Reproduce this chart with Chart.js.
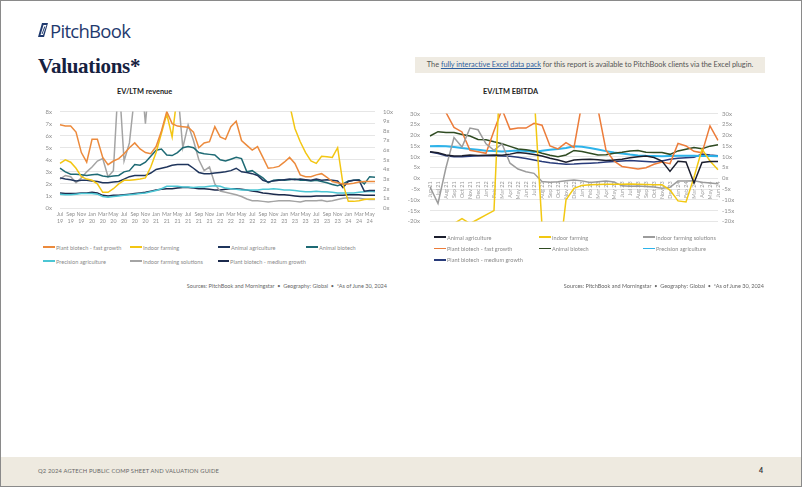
<!DOCTYPE html>
<html>
<head>
<meta charset="utf-8">
<script src="https://cdn.jsdelivr.net/npm/chart.js@4.4.1/dist/chart.umd.min.js"></script>
<style>
  html, body { margin: 0; padding: 0; background: #fff; }
  #page { position: relative; width: 802px; height: 487px; overflow: hidden; font-family: Lato, "Open Sans", sans-serif; }
  #frame { position: absolute; left: 0; top: 0; width: 802px; height: 487px; box-sizing: border-box; border: 1px solid #8a8a8a; pointer-events: none; z-index: 5; }
  #logo { position: absolute; left: 38px; top: 19px; height: 22px; display: flex; align-items: center; }
  #logo span { font-family: "Open Sans", sans-serif; font-size: 18.5px; color: #1f3a6e; letter-spacing: -0.7px; margin-left: 1px; }
  #title { position: absolute; left: 38px; top: 54px; font-family: "Liberation Serif", serif; font-weight: bold; font-size: 21px; color: #16213f; letter-spacing: -0.3px; }
  #info { position: absolute; left: 415px; top: 57px; width: 350px; height: 16px; background: #efebe2; font-size: 7.4px; color: #555; line-height: 16px; text-align: center; letter-spacing: -0.05px; }
  #info a { color: #2f5f9e; text-decoration: underline; }
  .ctitle { position: absolute; top: 87px; font-size: 7.4px; font-weight: bold; color: #222; }
  canvas { position: absolute; }
  .legend { position: absolute; display: grid; font-size: 5.6px; color: #8a8a8a; }
  .legend div { display: flex; align-items: center; white-space: nowrap; }
  .legend i { display: inline-block; width: 12px; height: 1.6px; margin-right: 1px; }
  .source { position: absolute; top: 283px; font-size: 5.5px; color: #666; text-align: right; white-space: nowrap; }
  #footer { position: absolute; left: 0; top: 457px; width: 802px; height: 30px; background: #eeeae0; }
  #footer .t { position: absolute; left: 38px; top: 10px; font-size: 5.8px; color: #666; letter-spacing: 0.15px; }
  #footer .n { position: absolute; left: 759px; top: 9px; font-size: 7px; color: #333; font-weight: bold; }
</style>
</head>
<body>
<div id="page">
  <div id="logo">
    <svg width="11" height="16" viewBox="0 0 11 16">
      <path d="M4 1 L10 1 L6 15 L0 15 Z" fill="#1f3a6e"/>
      <path d="M5.5 3 L8.5 3 L5 13 L2.5 13 Z" fill="#fff"/>
      <path d="M6.3 4.5 L7.4 4.5 L4.5 12 L3.6 12 Z" fill="#1f3a6e"/>
    </svg>
    <span>PitchBook</span>
  </div>
  <div id="title">Valuations*</div>
  <div id="info">The <a>fully interactive Excel data pack</a> for this report is available to PitchBook clients via the Excel plugin.</div>

  <div class="ctitle" style="left:117px">EV/LTM revenue</div>
  <canvas id="rev" width="360" height="130" style="left:36px; top:100px"></canvas>
  <div class="legend" id="revLegend" style="left:43px; top:240px; grid-template-columns:87px 88px 88px 80px; grid-auto-rows:14px"></div>
  <div class="source" style="right:415px">Sources: PitchBook and Morningstar &nbsp;•&nbsp; Geography: Global &nbsp;•&nbsp; *As of June 30, 2024</div>

  <div class="ctitle" style="left:483px">EV/LTM EBITDA</div>
  <canvas id="ebitda" width="345" height="135" style="left:398px; top:100px"></canvas>
  <div class="legend" id="ebLegend" style="left:434px; top:231.5px; grid-template-columns:105px 104px 110px; grid-auto-rows:11.4px"></div>
  <div class="source" style="right:38px">Sources: PitchBook and Morningstar &nbsp;•&nbsp; Geography: Global &nbsp;•&nbsp; *As of June 30, 2024</div>

  <div id="footer"><div class="t">Q2 2024 AGTECH PUBLIC COMP SHEET AND VALUATION GUIDE</div><div class="n">4</div></div>
  <div id="frame"></div>
</div>
<script>
// EV/LTM revenue, monthly Jul 2019 - Jun 2024
const revMonths = ['Jul 19','Aug 19','Sep 19','Oct 19','Nov 19','Dec 19',
  'Jan 20','Feb 20','Mar 20','Apr 20','May 20','Jun 20','Jul 20','Aug 20','Sep 20','Oct 20','Nov 20','Dec 20',
  'Jan 21','Feb 21','Mar 21','Apr 21','May 21','Jun 21','Jul 21','Aug 21','Sep 21','Oct 21','Nov 21','Dec 21',
  'Jan 22','Feb 22','Mar 22','Apr 22','May 22','Jun 22','Jul 22','Aug 22','Sep 22','Oct 22','Nov 22','Dec 22',
  'Jan 23','Feb 23','Mar 23','Apr 23','May 23','Jun 23','Jul 23','Aug 23','Sep 23','Oct 23','Nov 23','Dec 23',
  'Jan 24','Feb 24','Mar 24','Apr 24','May 24','Jun 24'];

const fastRev = [6.9,6.8,6.8,6.3,4.6,3.8,5.7,5.7,4.2,3.6,
  3.9,4.1,4.5,5.0,5.4,4.9,4.6,4.5,5.1,6.4,
  8.0,7.0,6.8,6.75,6.7,6.3,5.0,5.4,5.5,6.75,
  5.9,5.7,6.75,7.2,5.6,5.2,4.8,5.1,4.2,3.3,
  3.35,3.45,3.8,4.2,3.7,2.75,2.6,2.6,2.75,2.85,
  2.55,2.2,2.1,2.0,2.0,2.05,2.15,2.2,2.2,2.2];
const indoorRev = [3.7,4.0,3.8,3.3,2.6,2.4,2.3,2.0,1.3,1.3,
  1.6,2.0,2.3,2.3,2.35,2.4,2.5,3.4,4.6,6.2,
  7.8,5.9,9.5,11,12,13,14,15,15,14,
  13,12.5,12,11.5,11,10.5,10,10.5,11,11,
  10.5,10,9.5,8.6,6.6,5.5,4.6,3.9,3.7,4.3,
  4.25,4.2,5.0,2.0,0.55,0.55,0.6,0.7,0.75,0.75];
const animalAgRev = [2.5,2.4,2.35,2.25,2.3,2.3,2.25,2.2,2.1,2.1,
  2.15,2.2,2.4,2.6,2.7,2.7,2.7,2.9,3.2,3.3,
  3.4,3.55,3.6,3.6,3.6,3.3,2.95,2.85,2.85,2.9,
  2.95,3.0,3.1,3.3,3.0,2.95,2.85,2.7,2.3,2.15,
  2.25,2.3,2.35,2.4,2.35,2.4,2.35,2.3,2.4,2.3,
  2.35,2.3,2.25,1.7,2.2,2.3,2.3,1.4,1.45,1.45];
const animalBioRev = [3.3,3.0,2.8,2.8,2.75,2.7,2.75,2.8,2.65,2.6,
  2.65,2.7,3.0,3.1,3.6,3.55,3.8,4.3,4.8,4.9,
  4.4,4.35,4.6,5.0,5.1,5.0,4.6,4.5,4.45,4.4,
  4.0,3.9,4.05,4.2,4.1,3.0,3.1,2.8,2.5,2.1,
  2.3,2.35,2.3,2.35,2.4,2.3,2.3,2.25,2.3,2.2,
  2.1,1.95,1.85,2.0,2.25,2.3,2.35,2.0,2.6,2.55];
const precisionRev = [1.15,1.1,1.1,1.15,1.2,1.2,1.2,1.15,0.95,0.9,
  0.95,1.0,1.05,1.1,1.15,1.2,1.25,1.35,1.45,1.6,
  1.8,1.8,1.8,1.75,1.75,1.7,1.75,1.75,1.8,1.85,
  1.8,1.65,1.6,1.55,1.5,1.5,1.5,1.5,1.55,1.55,
  1.6,1.55,1.5,1.5,1.45,1.4,1.35,1.35,1.4,1.35,
  1.35,1.3,1.25,1.25,1.25,1.25,1.3,1.35,1.4,1.35];
const indoorSolRev = [2.4,2.7,2.6,2.1,2.5,3.0,3.4,3.9,4.1,2.6,
  3.1,11,3.9,5.4,9.5,12,7.0,12,14,13,
  11,10,10,5.0,6.9,5.6,4.0,3.1,3.4,2.0,
  1.4,1.3,1.2,1.1,0.95,0.75,0.6,0.6,0.55,0.5,
  0.55,0.6,0.6,0.6,0.55,0.5,0.6,0.6,0.6,0.65,
  0.55,0.6,0.7,0.8,0.85,0.8,0.8,0.75,0.7,0.7];
const plantMedRev = [1.25,1.2,1.2,1.2,1.25,1.25,1.3,1.25,1.05,1.0,
  1.05,1.05,1.1,1.15,1.2,1.25,1.3,1.4,1.5,1.55,
  1.6,1.6,1.65,1.7,1.7,1.65,1.6,1.6,1.55,1.5,
  1.5,1.55,1.6,1.6,1.55,1.5,1.4,1.35,1.25,1.2,
  1.15,1.1,1.1,1.05,1.0,0.95,0.95,0.95,1.0,1.0,
  1.0,1.0,1.05,1.05,1.1,1.1,1.1,1.05,1.05,1.05];

// EV/LTM EBITDA, monthly Jun 2021 - Jun 2024
const ebMonths = ['Jun 21','Jul 21','Aug 21','Sep 21','Oct 21','Nov 21','Dec 21',
  'Jan 22','Feb 22','Mar 22','Apr 22','May 22','Jun 22','Jul 22','Aug 22','Sep 22','Oct 22','Nov 22','Dec 22',
  'Jan 23','Feb 23','Mar 23','Apr 23','May 23','Jun 23','Jul 23','Aug 23','Sep 23','Oct 23','Nov 23','Dec 23',
  'Jan 24','Feb 24','Mar 24','Apr 24','May 24','Jun 24'];

const animalAgEb = [12.3,11.8,10.8,10.3,10.5,10.8,10.6,10.7,10.8,10.7,
  11.2,12.0,11.6,11.0,10.3,9.3,8.5,7.5,8.5,8.7,
  8.8,8.6,8.3,8.5,8.8,9.5,10.0,10.3,9.6,8.0,
  3.2,7.9,7.6,-2.2,7.3,7.8,7.8];
const indoorEb = [-26,-24,-22,-21,-18.7,-21,-19,-17,-15,70,
  60,55,50,40,-22,-40,-42,-10,-4.7,-3.3,
  -3.0,-2.9,-2.8,-2.8,-2.8,-2.7,-2.8,-2.9,-3.0,-3.0,
  -5.5,-10.5,-11,0.5,13.5,8,4];
const indoorSolEb = [-4.0,-11.7,5.0,18.9,14.5,23.3,22.5,16.0,13.0,16.0,
  7.0,4.3,3.0,2.3,-1.5,-1.8,-1.6,-1.2,-0.8,-1.2,
  -2.0,-1.6,-1.3,-1.7,-3.5,-3.7,-3.6,-3.8,-4.0,-4.6,
  -4.2,-1.3,-1.3,-1.2,-1.8,-2.2,-2.5];
const fastEb = [38,36,30.5,23.6,21.5,13.0,12.3,11.6,22,32,
  22.7,23.3,23.3,25.5,24.6,15.0,13.6,16.5,14.3,35,
  45,32,13,8.0,5.5,4.9,4.3,4.9,6.5,7.5,
  6.8,16.2,15.0,12.5,11.8,24.3,17.6];
const animalBioEb = [19.6,21.6,21.2,21.2,20.3,19.6,18.0,17.9,16.9,16.0,
  14.8,13.6,13.2,12.7,11.6,10.7,10.0,10.8,12.9,12.4,
  11.6,10.8,10.9,11.6,12.1,12.7,12.9,12.1,11.9,11.9,
  11.1,12.7,13.5,14.3,13.7,14.9,15.6];
const precisionEb = [14.9,15.0,14.9,14.5,14.0,13.6,13.2,12.8,12.6,12.4,
  12.7,12.9,12.6,12.2,12.8,13.2,13.6,14.0,14.8,14.6,
  14.0,13.3,12.6,12.0,11.5,11.0,10.6,10.4,10.3,10.2,
  10.3,10.4,10.5,10.4,10.3,10.3,10.2];
const plantMedEb = [12.2,11.5,10.5,10.0,10.0,10.2,10.5,10.5,10.4,10.3,
  10.2,9.8,9.2,8.5,7.8,7.2,6.8,6.5,6.6,6.8,
  7.0,7.2,7.5,7.8,8.0,8.2,8.0,7.8,7.6,8.0,
  8.8,9.3,9.5,9.7,11.2,10.8,10.5];

const tickFont = { family: 'Lato', size: 6 };
const tickColor = '#8f8f8f';
const gridColor = '#e6e6e6';

const revSeries = [
  { label: 'Plant biotech - fast growth', data: fastRev, color: '#ec8a3c' },
  { label: 'Indoor farming', data: indoorRev, color: '#f3c613' },
  { label: 'Animal agriculture', data: animalAgRev, color: '#1f355c' },
  { label: 'Animal biotech', data: animalBioRev, color: '#1e6a74' },
  { label: 'Precision agriculture', data: precisionRev, color: '#4cc6d4' },
  { label: 'Indoor farming solutions', data: indoorSolRev, color: '#a4a4a4' },
  { label: 'Plant biotech - medium growth', data: plantMedRev, color: '#1b2a4c' }
];

const ebSeries = [
  { label: 'Animal agriculture', data: animalAgEb, color: '#1c1f2e' },
  { label: 'Indoor farming', data: indoorEb, color: '#f2c812' },
  { label: 'Indoor farming solutions', data: indoorSolEb, color: '#9c9c9c' },
  { label: 'Plant biotech - fast growth', data: fastEb, color: '#ec7c3a' },
  { label: 'Animal biotech', data: animalBioEb, color: '#2f4b22' },
  { label: 'Precision agriculture', data: precisionEb, color: '#2db3ea', width: 2 },
  { label: 'Plant biotech - medium growth', data: plantMedEb, color: '#283b7a' }
];

function toDatasets(series) {
  return series.map(s => ({
    label: s.label,
    data: s.data,
    borderColor: s.color,
    backgroundColor: s.color,
    borderWidth: s.width || 1.5,
    pointRadius: 0,
    tension: 0,
    fill: false
  }));
}

function buildLegend(el, series) {
  series.forEach(s => {
    const item = document.createElement('div');
    item.innerHTML = `<i style="background:${s.color}"></i>${s.label}`;
    el.appendChild(item);
  });
}

new Chart(document.getElementById('rev'), {
  type: 'line',
  data: { labels: revMonths, datasets: toDatasets(revSeries) },
  options: {
    responsive: false,
    animation: false,
    layout: { padding: { top: 5, left: 0, right: 0, bottom: 0 } },
    plugins: { legend: { display: false }, tooltip: { enabled: false } },
    scales: {
      x: {
        grid: { display: false, drawTicks: false },
        border: { display: false },
        ticks: {
          autoSkip: false, maxRotation: 0, minRotation: 0, padding: 2,
          font: { family: 'Lato', size: 5.3, lineHeight: 1.45 }, color: tickColor,
          callback: (v, i) => i % 2 === 0 ? revMonths[i].split(' ') : ''
        },
        afterFit: s => { s.height = 22; }
      },
      y: {
        min: 0, max: 8,
        grid: { color: gridColor, drawTicks: false },
        border: { display: false },
        ticks: { stepSize: 1, autoSkip: false, padding: 8, font: tickFont, color: tickColor, callback: v => v + 'x' },
        afterFit: s => { s.width = 24; }
      },
      y2: {
        position: 'right', min: 0, max: 10,
        grid: { display: false, drawTicks: false },
        border: { display: false },
        ticks: { stepSize: 1, autoSkip: false, padding: 8, font: tickFont, color: tickColor, callback: v => v + 'x' },
        afterFit: s => { s.width = 21; }
      }
    }
  }
});

new Chart(document.getElementById('ebitda'), {
  type: 'line',
  data: { labels: ebMonths, datasets: toDatasets(ebSeries) },
  options: {
    responsive: false,
    animation: false,
    layout: { padding: { top: 5.7, left: 0, right: 0, bottom: 4.3 } },
    plugins: { legend: { display: false }, tooltip: { enabled: false } },
    scales: {
      x: {
        position: { y: 0 },
        grid: { display: false, drawTicks: false },
        border: { display: false },
        ticks: { autoSkip: false, minRotation: 90, maxRotation: 90, padding: 3, font: { family: 'Lato', size: 5.5 }, color: '#9a9a9a' }
      },
      y: {
        min: -20, max: 30,
        grid: { color: gridColor, drawTicks: false },
        border: { display: false },
        ticks: { stepSize: 5, autoSkip: false, padding: 10, font: tickFont, color: tickColor, callback: v => v + 'x' },
        afterFit: s => { s.width = 32; }
      },
      y2: {
        position: 'right', min: -20, max: 30,
        grid: { display: false, drawTicks: false },
        border: { display: false },
        ticks: { stepSize: 5, autoSkip: false, padding: 4, font: tickFont, color: tickColor, callback: v => v + 'x' },
        afterFit: s => { s.width = 25; }
      }
    }
  }
});

buildLegend(document.getElementById('revLegend'), revSeries);
buildLegend(document.getElementById('ebLegend'), ebSeries);
</script>
</body>
</html>
